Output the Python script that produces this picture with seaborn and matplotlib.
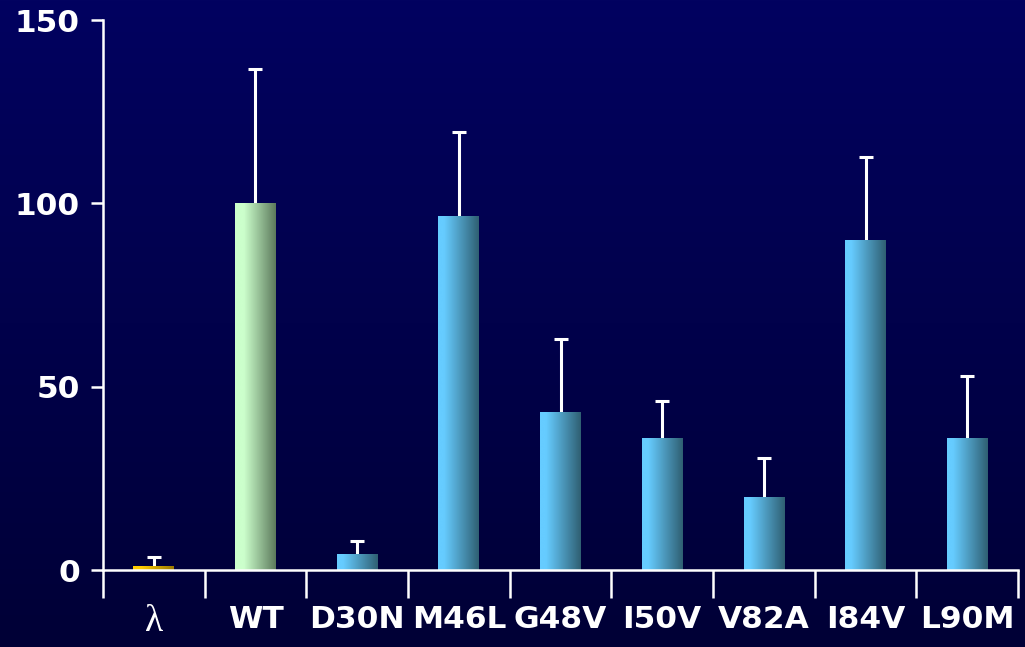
import numpy as np
import pandas as pd
import matplotlib
matplotlib.use("Agg")
import matplotlib.pyplot as plt
import seaborn as sns
from matplotlib.colors import LinearSegmentedColormap

# Relative activity per variant (mean and upper error)
labels = ["λ", "WT", "D30N", "M46L", "G48V", "I50V", "V82A", "I84V", "L90M"]
values = [1.0, 100.0, 4.5, 96.5, 43.0, 36.0, 20.0, 90.0, 36.0]
errors = [2.5, 36.5, 3.5, 23.0, 20.0, 10.0, 10.5, 22.5, 17.0]
yticks = [0, 50, 100, 150]

sns.set_style("white")
plt.rcParams["font.family"] = ["DejaVu Sans"]
plt.rcParams["font.weight"] = "bold"

df = pd.DataFrame({"label": labels, "value": values})

fig = plt.figure(figsize=(10.25, 6.47), dpi=100)

# Navy backdrop, slightly brighter at the top
bg = fig.add_axes([0, 0, 1, 1], zorder=-10)
grad = np.linspace(0, 1, 256).reshape(-1, 1)
bg_cmap = LinearSegmentedColormap.from_list("bg", ["#020260", "#000036"])
bg.imshow(grad, aspect="auto", cmap=bg_cmap, extent=[0, 1, 0, 1])
bg.axis("off")

ax = fig.add_axes([103 / 1025, 1 - 570 / 647, (1018 - 103) / 1025, 550 / 647])
ax.patch.set_alpha(0)

sns.barplot(data=df, x="label", y="value", ax=ax, width=0.4,
            color="#66ccff", errorbar=None, saturation=1)

# Horizontal shading inside each bar: light on the left, darker on the right
def shade(light, dark, hold):
    return LinearSegmentedColormap.from_list(
        "s", [(0, light), (hold, light), (1, dark)])

bar_maps = [shade("#ffcc00", "#9a7800", 0.2),
            shade("#ccffcc", "#5c7a5c", 0.22)] + \
           [shade("#66ccff", "#2f5f72", 0.15)] * 7

hgrad = np.linspace(0, 1, 256).reshape(1, -1)
for patch, cmap in zip(ax.patches, bar_maps):
    x0, y0 = patch.get_x(), patch.get_y()
    w, h = patch.get_width(), patch.get_height()
    im = ax.imshow(hgrad, aspect="auto", cmap=cmap,
                   extent=[x0, x0 + w, y0, y0 + h], zorder=2)
    im.set_clip_path(patch)
    patch.set_facecolor("none")
    patch.set_edgecolor("none")

# One-sided (upward) error bars
_, caps, _ = ax.errorbar(x=np.arange(len(labels)), y=values,
                         yerr=[np.zeros(len(errors)), errors],
                         fmt="none", ecolor="white", elinewidth=2.2,
                         capsize=5, capthick=2.2, zorder=1)
caps[0].set_visible(False)

ax.set_xlim(-0.5, len(labels) - 0.5)
ax.set_ylim(0, 150)
ax.set_yticks(yticks)
ax.set_yticklabels([str(t) for t in yticks])
ax.set_xticks(np.arange(len(labels)))
ax.set_xticklabels(labels)
ax.set_xticks(np.arange(-0.5, len(labels), 1), minor=True)
ax.set_xlabel("")
ax.set_ylabel("")

for side in ["top", "right"]:
    ax.spines[side].set_visible(False)
for side in ["left", "bottom"]:
    ax.spines[side].set_color("white")
    ax.spines[side].set_linewidth(1.8)

ax.tick_params(axis="y", which="major", length=8.6, width=1.8, color="white",
               labelcolor="white", labelsize=22.5, pad=8, left=True)
ax.tick_params(axis="x", which="major", length=0, labelcolor="white",
               labelsize=22.5, pad=25, bottom=True)
ax.tick_params(axis="x", which="minor", length=20, width=1.8, color="white",
               bottom=True)

for lab in ax.get_yticklabels() + ax.get_xticklabels():
    lab.set_fontweight("bold")
lam = ax.get_xticklabels()[0]
lam.set_fontfamily(["Liberation Serif", "DejaVu Serif"])
lam.set_fontweight("normal")
lam.set_fontsize(27)

fig.savefig("out.png", dpi=100)
